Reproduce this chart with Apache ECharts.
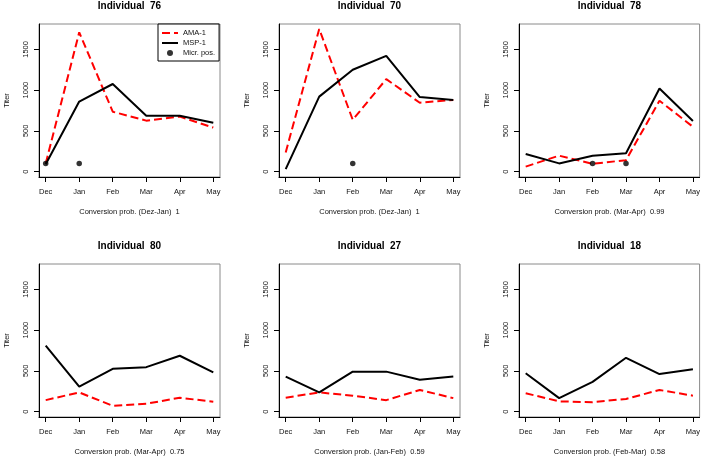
<!DOCTYPE html>
<html><head><meta charset="utf-8">
<script src="https://cdn.jsdelivr.net/npm/echarts@6/dist/echarts.min.js"></script>
<style>html,body{margin:0;padding:0;background:#fff}#c{width:703px;height:457px}</style>
</head><body><div id="c"></div>
<script>
// ---- data ----
const months = ['Dec', 'Jan', 'Feb', 'Mar', 'Apr', 'May'];
const individuals = ['76', '70', '78', '80', '27', '18'];
const conversionLabels = [
  'Conversion prob. (Dez-Jan)  1',
  'Conversion prob. (Dez-Jan)  1',
  'Conversion prob. (Mar-Apr)  0.99',
  'Conversion prob. (Mar-Apr)  0.75',
  'Conversion prob. (Jan-Feb)  0.59',
  'Conversion prob. (Feb-Mar)  0.58'
];
const ama76 = [100, 1710, 735, 625, 675, 540];
const msp76 = [90, 860, 1075, 685, 685, 600];
const ama70 = [235, 1750, 635, 1135, 845, 880];
const msp70 = [30, 920, 1250, 1420, 915, 880];
const ama78 = [60, 195, 95, 140, 870, 550];
const msp78 = [215, 100, 195, 225, 1020, 620];
const ama80 = [140, 235, 70, 95, 170, 120];
const msp80 = [810, 305, 525, 545, 685, 480];
const ama27 = [170, 235, 195, 140, 265, 165];
const msp27 = [430, 235, 490, 490, 390, 430];
const ama18 = [225, 125, 115, 155, 265, 195];
const msp18 = [470, 165, 365, 660, 460, 520];
const micr76 = ['Dec', 'Jan'];
const micr70 = ['Feb'];
const micr78 = ['Feb', 'Mar'];
const micr80 = [];
const micr27 = [];
const micr18 = [];
const micrLevel = 100;
const yTicks = [0, 500, 1000, 1500];
const seriesNames = ['AMA-1', 'MSP-1', 'Micr. pos.'];

// ---- layout ----
const amaAll = [ama76, ama70, ama78, ama80, ama27, ama18];
const mspAll = [msp76, msp70, msp78, msp80, msp27, msp18];
const micrAll = [micr76, micr70, micr78, micr80, micr27, micr18];
const lefts = [39, 279, 519];
const tops = [24, 264];
const W = 181, H = 153;
const FONT = '"Liberation Sans", Arial, Helvetica, sans-serif';
const xIdx = months.map((m, i) => i);

const grid = [], xAxis = [], yAxis = [], series = [], graphic = [];
for (let i = 0; i < 6; i++) {
  const col = i % 3, row = Math.floor(i / 3);
  const L = lefts[col], T = tops[row];
  grid.push({left: L, top: T, width: W, height: H, show: true, borderColor: '#8a8a8a', borderWidth: 1, backgroundColor: 'transparent'});
  xAxis.push({
    gridIndex: i, type: 'value', min: -0.2, max: 5.2,
    axisLine: {show: true, onZero: false, lineStyle: {color: '#000', width: 1}},
    axisTick: {show: true, customValues: xIdx, length: 5, lineStyle: {color: '#000'}},
    axisLabel: {show: true, customValues: xIdx, formatter: v => months[Math.round(v)], fontSize: 7.5, color: '#111', margin: 11, fontFamily: FONT},
    splitLine: {show: false}
  });
  yAxis.push({
    gridIndex: i, type: 'value', min: -67, max: 1812,
    axisLine: {show: true, onZero: false, lineStyle: {color: '#000', width: 1}},
    axisTick: {show: true, customValues: yTicks, length: 5, lineStyle: {color: '#000'}},
    axisLabel: {show: true, customValues: yTicks, formatter: v => String(v), rotate: 90, fontSize: 7.5, color: '#111', margin: 9, fontFamily: FONT},
    splitLine: {show: false},
    name: 'Titer', nameLocation: 'middle', nameGap: 28, nameRotate: 90,
    nameTextStyle: {fontSize: 7.5, color: '#111', fontFamily: FONT}
  });
  series.push({
    type: 'line', name: seriesNames[0], xAxisIndex: i, yAxisIndex: i,
    data: amaAll[i].map((v, k) => [k, v]), symbol: 'none',
    lineStyle: {color: '#ff0000', width: 2, type: [8, 4]}, itemStyle: {color: '#ff0000'},
    z: 2, animation: false
  });
  series.push({
    type: 'line', name: seriesNames[1], xAxisIndex: i, yAxisIndex: i,
    data: mspAll[i].map((v, k) => [k, v]), symbol: 'none',
    lineStyle: {color: '#000', width: 2}, itemStyle: {color: '#000'},
    z: 3, animation: false
  });
  series.push({
    type: 'scatter', name: seriesNames[2], xAxisIndex: i, yAxisIndex: i,
    data: micrAll[i].map(m => [months.indexOf(m), micrLevel]),
    symbol: 'circle', symbolSize: 5.5, itemStyle: {color: '#000'},
    z: 4, animation: false
  });
  const cx = L + W / 2;
  graphic.push({type: 'text', x: cx, y: row === 0 ? 6 : 246, z: 10,
    style: {text: 'Individual  ' + individuals[i], align: 'center', verticalAlign: 'middle', font: 'bold 10px ' + FONT, fill: '#000'}});
  graphic.push({type: 'text', x: cx, y: T + H + 35, z: 10,
    style: {text: conversionLabels[i], align: 'center', verticalAlign: 'middle', font: '7.5px ' + FONT, fill: '#111'}});
}

const chart = echarts.init(document.getElementById('c'), null, {renderer: 'canvas'});
chart.setOption({
  animation: false,
  backgroundColor: '#fff',
  grid, xAxis, yAxis, series, graphic,
  legend: {
    data: [
      {name: seriesNames[0], itemStyle: {opacity: 0, color: 'transparent', borderWidth: 0}},
      {name: seriesNames[1], itemStyle: {opacity: 0, color: 'transparent', borderWidth: 0}},
      {name: seriesNames[2], icon: 'circle', itemStyle: {color: '#000'}}
    ],
    orient: 'vertical', left: 158, top: 24,
    padding: [5, 4, 4, 3], itemGap: 2, itemWidth: 16, itemHeight: 6,
    borderColor: '#000', borderWidth: 1, borderRadius: 0, backgroundColor: '#fff',
    textStyle: {fontSize: 7.5, lineHeight: 8, color: '#111', fontFamily: FONT},
    selectedMode: false, z: 20
  }
});
</script>
</body></html>
